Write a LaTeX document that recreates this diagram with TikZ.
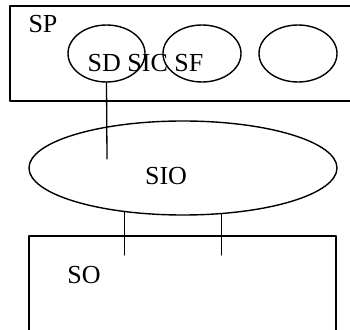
\documentclass[tikz,border=0pt]{standalone}
\usepackage{fontspec}
\setmainfont{Liberation Serif}
\usepackage{tikz}
\usetikzlibrary{shapes.geometric}

\begin{document}
\begin{tikzpicture}[line cap=round,line join=round,x=1pt,y=1pt,
	oval/.style={draw,ellipse,inner sep=0pt,line width=1.4pt},
	lbl/.style={inner sep=0pt,anchor=base,font=\fontsize{26}{30}\selectfont}]
			\useasboundingbox (0,0) rectangle (350,329);
			\begin{scope}
			\clip (0,0) rectangle (350,329);
			\draw [line width=1.8pt] (10,323) rectangle (360,228);
			\draw [line width=1.3pt] (29,93) rectangle (336,-10);
			\end{scope}
			
			\node [lbl] (sp) at (43,296) {SP};
			\node [oval,minimum width=77pt,minimum height=57pt] (sd) at (106.5,275.5) {};
			\node [oval,minimum width=78pt,minimum height=57pt] (sf) at (202,275.5) {};
			\node [oval,minimum width=78pt,minimum height=57pt] (se) at (298,275.5) {};
			\node [lbl] (sdsicsf) at (145.5,257) {SD SIC SF};
			
			\node [oval,minimum width=308pt,minimum height=94pt] (sio) at (183,161) {};
			\node [lbl] (siotxt) at (166,144) {SIO};
			\coordinate (tip) at (107,170);
			\draw [line width=1.3pt] (sd.south) -- (tip);
			
			\node [lbl] (so) at (84,46) {SO};
			\coordinate (p1) at (125,74);
			\coordinate (p2) at (221,74);
			\draw [line width=1.3pt] (sio.217) -- (sio.217 |- p1);
			\draw [line width=1.3pt] (sio.310) -- (sio.310 |- p2);
		\end{tikzpicture}
\end{document}
